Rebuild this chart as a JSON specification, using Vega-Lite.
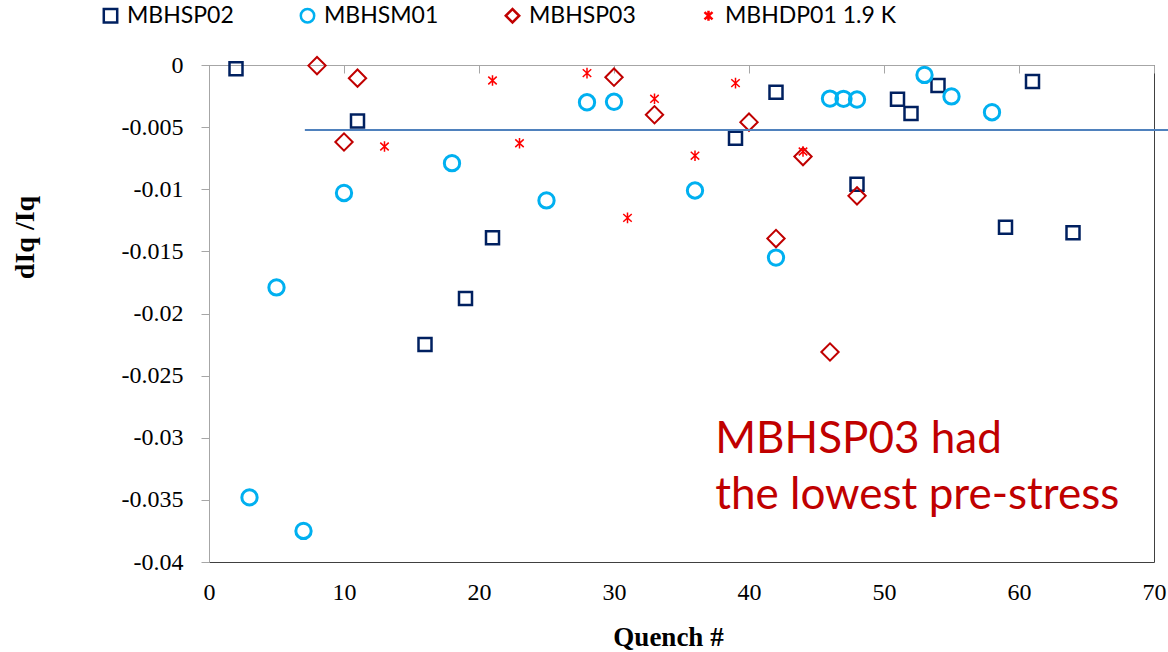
{
  "$schema": "https://vega.github.io/schema/vega-lite/v6.json",
  "width": 945,
  "height": 497,
  "autosize": {"type": "none"},
  "padding": {"left": 209, "top": 65, "right": 14, "bottom": 90},
  "background": "white",
  "config": {
    "view": {"stroke": "#404040", "strokeWidth": 1},
    "axis": {"grid": false, "labelOverlap": false, "labelFlush": false}
  },
  "datasets": {
    "pts": [
      {"series": "MBHSP02", "quench": 2, "dIq": -0.0003},
      {"series": "MBHSP02", "quench": 11, "dIq": -0.0045},
      {"series": "MBHSP02", "quench": 16, "dIq": -0.0225},
      {"series": "MBHSP02", "quench": 19, "dIq": -0.0188},
      {"series": "MBHSP02", "quench": 21, "dIq": -0.0139},
      {"series": "MBHSP02", "quench": 39, "dIq": -0.0059},
      {"series": "MBHSP02", "quench": 42, "dIq": -0.0022},
      {"series": "MBHSP02", "quench": 48, "dIq": -0.0096},
      {"series": "MBHSP02", "quench": 51, "dIq": -0.00275},
      {"series": "MBHSP02", "quench": 52, "dIq": -0.0039},
      {"series": "MBHSP02", "quench": 54, "dIq": -0.00165},
      {"series": "MBHSP02", "quench": 59, "dIq": -0.01305},
      {"series": "MBHSP02", "quench": 61, "dIq": -0.00133},
      {"series": "MBHSP02", "quench": 64, "dIq": -0.0135},
      {"series": "MBHSM01", "quench": 3, "dIq": -0.0348},
      {"series": "MBHSM01", "quench": 5, "dIq": -0.0179},
      {"series": "MBHSM01", "quench": 7, "dIq": -0.0375},
      {"series": "MBHSM01", "quench": 10, "dIq": -0.0103},
      {"series": "MBHSM01", "quench": 18, "dIq": -0.0079},
      {"series": "MBHSM01", "quench": 25, "dIq": -0.0109},
      {"series": "MBHSM01", "quench": 28, "dIq": -0.003},
      {"series": "MBHSM01", "quench": 30, "dIq": -0.00296},
      {"series": "MBHSM01", "quench": 36, "dIq": -0.0101},
      {"series": "MBHSM01", "quench": 42, "dIq": -0.0155},
      {"series": "MBHSM01", "quench": 46, "dIq": -0.0027},
      {"series": "MBHSM01", "quench": 47, "dIq": -0.00272},
      {"series": "MBHSM01", "quench": 48, "dIq": -0.00278},
      {"series": "MBHSM01", "quench": 53, "dIq": -0.0008},
      {"series": "MBHSM01", "quench": 55, "dIq": -0.00253},
      {"series": "MBHSM01", "quench": 58, "dIq": -0.0038},
      {"series": "MBHSP03", "quench": 8, "dIq": -0.00005},
      {"series": "MBHSP03", "quench": 10, "dIq": -0.0062},
      {"series": "MBHSP03", "quench": 11, "dIq": -0.00106},
      {"series": "MBHSP03", "quench": 30, "dIq": -0.00098},
      {"series": "MBHSP03", "quench": 33, "dIq": -0.004},
      {"series": "MBHSP03", "quench": 40, "dIq": -0.0046},
      {"series": "MBHSP03", "quench": 42, "dIq": -0.01397},
      {"series": "MBHSP03", "quench": 44, "dIq": -0.00737},
      {"series": "MBHSP03", "quench": 46, "dIq": -0.0231},
      {"series": "MBHSP03", "quench": 48, "dIq": -0.01053},
      {"series": "MBHDP01 1.9 K", "quench": 13, "dIq": -0.00656},
      {"series": "MBHDP01 1.9 K", "quench": 21, "dIq": -0.00125},
      {"series": "MBHDP01 1.9 K", "quench": 23, "dIq": -0.0063},
      {"series": "MBHDP01 1.9 K", "quench": 28, "dIq": -0.00065},
      {"series": "MBHDP01 1.9 K", "quench": 31, "dIq": -0.0123},
      {"series": "MBHDP01 1.9 K", "quench": 33, "dIq": -0.00272},
      {"series": "MBHDP01 1.9 K", "quench": 36, "dIq": -0.0073},
      {"series": "MBHDP01 1.9 K", "quench": 39, "dIq": -0.00146},
      {"series": "MBHDP01 1.9 K", "quench": 44, "dIq": -0.00696}
    ]
  },
  "resolve": {"axis": {"x": "independent"}},
  "layer": [
    {
      "data": {"name": "pts"},
      "transform": [{"filter": "datum.series === 'MBHSP02'"}],
      "mark": {"type": "point", "filled": false, "size": 169, "strokeWidth": 2.5, "opacity": 1},
      "encoding": {
        "x": {
          "field": "quench", "type": "quantitative",
          "scale": {"domain": [0, 70], "nice": false, "zero": false},
          "axis": {
            "orient": "bottom", "offset": -497, "labels": false, "title": null,
            "domainColor": "#A6A6A6", "tickColor": "#A6A6A6", "tickSize": 8,
            "values": [0, 10, 20, 30, 40, 50, 60, 70]
          }
        },
        "y": {
          "field": "dIq", "type": "quantitative",
          "scale": {"domain": [-0.04, 0], "nice": false, "zero": false},
          "axis": {
            "orient": "left",
            "values": [0, -0.005, -0.01, -0.015, -0.02, -0.025, -0.03, -0.035, -0.04],
            "labelExpr": "'' + datum.value",
            "domainColor": "#A6A6A6", "tickColor": "#A6A6A6", "tickSize": 8,
            "labelPadding": 18, "labelFont": "Liberation Serif", "labelFontSize": 24,
            "labelColor": "#000000",
            "title": "dIq /Iq", "titleFont": "Liberation Serif", "titleFontSize": 28,
            "titleFontWeight": "bold", "titleColor": "#000000",
            "titleX": -184, "titleY": 172, "titleAngle": 270,
            "titleAlign": "center", "titleBaseline": "middle"
          }
        },
        "color": {
          "field": "series", "type": "nominal",
          "scale": {
            "domain": ["MBHSP02", "MBHSM01", "MBHSP03", "MBHDP01 1.9 K"],
            "range": ["#002060", "#00B0F0", "#C00000", "#FF0000"]
          },
          "legend": {
            "orient": "none", "legendX": -110, "legendY": -61, "direction": "horizontal",
            "title": null, "labelFont": "Lato", "labelFontSize": 23, "labelColor": "#000000",
            "labelLimit": 400, "gridAlign": "each",
            "symbolSize": 180, "symbolStrokeWidth": 2.5, "labelOffset": 5,
            "columnPadding": 61, "padding": 0
          }
        },
        "shape": {
          "field": "series", "type": "nominal",
          "scale": {
            "domain": ["MBHSP02", "MBHSM01", "MBHSP03", "MBHDP01 1.9 K"],
            "range": ["square", "circle", "diamond", "M0,-0.75L0,0.75M-0.6,-0.55L0.6,0.55M-0.6,0.55L0.6,-0.55"]
          },
          "legend": {
            "orient": "none", "legendX": -110, "legendY": -61, "direction": "horizontal",
            "title": null, "labelFont": "Lato", "labelFontSize": 23, "labelColor": "#000000",
            "labelLimit": 400, "gridAlign": "each",
            "symbolSize": 180, "symbolStrokeWidth": 2.5, "labelOffset": 5,
            "columnPadding": 61, "padding": 0
          }
        }
      }
    },
    {
      "data": {"name": "pts"},
      "transform": [{"filter": "datum.series === 'MBHSM01'"}],
      "mark": {"type": "point", "filled": false, "size": 235, "strokeWidth": 3, "opacity": 1},
      "encoding": {
        "x": {
          "field": "quench", "type": "quantitative",
          "axis": {
            "orient": "bottom", "domain": false, "ticks": false, "tickSize": 0,
            "values": [0, 10, 20, 30, 40, 50, 60, 70],
            "labelPadding": 18, "labelFont": "Liberation Serif", "labelFontSize": 24,
            "labelColor": "#000000", "labelFlush": false,
            "title": "Quench #", "titleFont": "Liberation Serif", "titleFontSize": 27,
            "titleFontWeight": "bold", "titleColor": "#000000",
            "titleX": 459, "titleY": 83, "titleAlign": "center", "titleBaseline": "alphabetic"
          }
        },
        "y": {"field": "dIq", "type": "quantitative"},
        "color": {"field": "series", "type": "nominal"},
        "shape": {"field": "series", "type": "nominal"}
      }
    },
    {
      "data": {"name": "pts"},
      "transform": [{"filter": "datum.series === 'MBHSP03'"}],
      "mark": {"type": "point", "filled": false, "size": 300, "strokeWidth": 2, "opacity": 1},
      "encoding": {
        "x": {"field": "quench", "type": "quantitative", "axis": null},
        "y": {"field": "dIq", "type": "quantitative"},
        "color": {"field": "series", "type": "nominal"},
        "shape": {"field": "series", "type": "nominal"}
      }
    },
    {
      "data": {"name": "pts"},
      "transform": [{"filter": "datum.series === 'MBHDP01 1.9 K'"}],
      "mark": {"type": "point", "filled": false, "size": 200, "strokeWidth": 1.5, "opacity": 1},
      "encoding": {
        "x": {"field": "quench", "type": "quantitative", "axis": null},
        "y": {"field": "dIq", "type": "quantitative"},
        "color": {"field": "series", "type": "nominal"},
        "shape": {"field": "series", "type": "nominal"}
      }
    },
    {
      "data": {"values": [{}]},
      "mark": {"type": "rule", "color": "#4F81BD", "strokeWidth": 2},
      "encoding": {
        "x": {"datum": 7.1, "type": "quantitative", "axis": null},
        "x2": {"datum": 71.2},
        "y": {"datum": -0.00524, "type": "quantitative"}
      }
    },
    {
      "data": {"values": [{}]},
      "mark": {
        "type": "text", "align": "left", "baseline": "alphabetic",
        "font": "Lato", "fontSize": 44, "lineHeight": 56, "color": "#C00000"
      },
      "encoding": {
        "x": {"datum": 37.5, "type": "quantitative", "axis": null},
        "y": {"datum": -0.03122, "type": "quantitative"},
        "text": {"value": ["MBHSP03 had", "the lowest pre-stress"]}
      }
    }
  ]
}
